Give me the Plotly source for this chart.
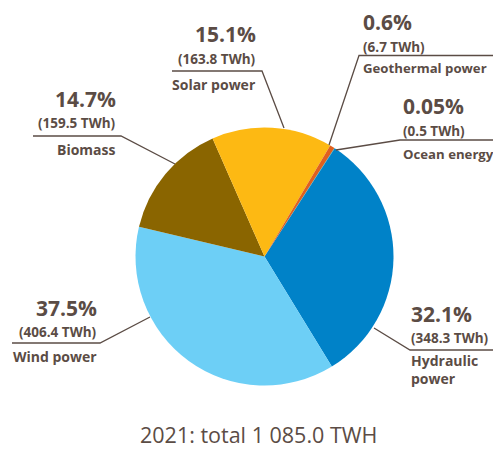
import plotly.graph_objects as go

W, H = 501, 449
OFF = 8  # page body margin in the browser

labels = ["Hydraulic power", "Wind power", "Biomass", "Solar power", "Geothermal power", "Ocean energy"]
twh = [348.3, 406.4, 159.5, 163.8, 6.7, 0.5]
pct_text = ["32.1%", "37.5%", "14.7%", "15.1%", "0.6%", "0.05%"]
twh_text = ["(348.3 TWh)", "(406.4 TWh)", "(159.5 TWh)", "(163.8 TWh)", "(6.7 TWh)", "(0.5 TWh)"]
name_text = ["Hydraulic<br>power", "Wind power", "Biomass", "Solar power", "Geothermal power", "Ocean energy"]
colors = ["#0082C8", "#6DCFF6", "#8A6500", "#FDB913", "#E0601E", "#1BA0B0"]
total_text = "2021: total 1 085.0 TWH"

TXT = "#5B4C45"
FONT = "Open Sans"

# pie geometry in screen pixels
cx, cy, r = 264.5, 256.5, 129.0

def px(x):
    return (x - OFF) / W

def py(y):
    return 1 - (y - OFF) / H

fig = go.Figure(go.Pie(
    labels=labels, values=twh, sort=False, direction="clockwise", rotation=33,
    marker=dict(colors=colors, line=dict(width=0)),
    textinfo="none", hoverinfo="label+value", showlegend=False,
    domain=dict(x=[px(cx - r), px(cx + r)], y=[py(cy + r), py(cy - r)]),
))

layout_spec = [
    dict(x=410, anchor="left", yp=314, yv=338, yn=369, ns=14, line=[(374, 328), (410, 350), (493, 350)]),
    dict(x=98, anchor="right", yp=308, yv=332, yn=356, ns=14, line=[(150, 317), (100, 343), (12, 343)]),
    dict(x=117, anchor="right", yp=99, yv=123, yn=149, ns=14, line=[(175, 164), (121, 136), (33, 136)]),
    dict(x=257, anchor="right", yp=34.5, yv=58.5, yn=84, ns=14, line=[(284, 128), (262, 71), (172, 71)]),
    dict(x=362, anchor="left", yp=22.5, yv=46.5, yn=68, ns=13.2, line=[(329, 145), (359, 55.5), (500, 55.5)]),
    dict(x=402, anchor="left", yp=105.5, yv=131, yn=154, ns=13.2, line=[(336, 150), (400, 140), (500, 140)]),
]

annotations = []
shapes = []
for i, s in enumerate(layout_spec):
    for txt, yy, size in [(f"<b>{pct_text[i]}</b>", s["yp"], 21), (f"<b>{twh_text[i]}</b>", s["yv"], 13.5), (f"<b>{name_text[i]}</b>", s["yn"], s["ns"])]:
        annotations.append(dict(
            text=txt, x=px(s["x"]), y=py(yy), xref="paper", yref="paper",
            xanchor=s["anchor"], yanchor="middle", align=s["anchor"], showarrow=False,
            borderpad=0, font=dict(family=FONT, size=size, color=TXT),
        ))
    pts = s["line"]
    path = "M " + " L ".join(f"{px(a)},{py(b)}" for a, b in pts)
    shapes.append(dict(type="path", path=path, xref="paper", yref="paper",
                       line=dict(color=TXT, width=1.3)))

annotations.append(dict(text=total_text, x=px(258), y=py(434), xref="paper", yref="paper",
                        xanchor="center", yanchor="middle", showarrow=False, borderpad=0,
                        font=dict(family=FONT, size=21.5, color=TXT)))

fig.update_layout(
    width=W, height=H, margin=dict(l=0, r=0, t=0, b=0),
    paper_bgcolor="white", plot_bgcolor="white",
    annotations=annotations, shapes=shapes,
)

fig.write_html("out.html")
